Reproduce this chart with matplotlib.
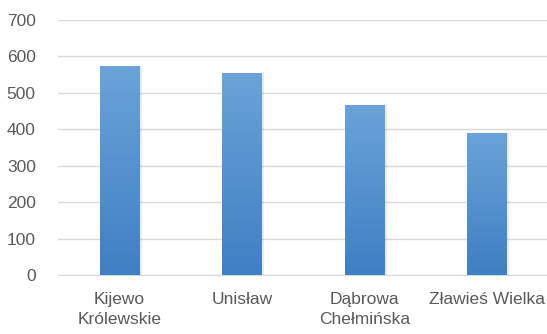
import numpy as np
import matplotlib
matplotlib.use('Agg')
import matplotlib.pyplot as plt
from matplotlib.colors import LinearSegmentedColormap

places = ['Kijewo\nKrólewskie', 'Unisław', 'Dąbrowa\nChełmińska', 'Zławieś Wielka']
values = [574, 555, 467, 390]
yticks = [0, 100, 200, 300, 400, 500, 600, 700]

plt.rcParams['font.family'] = ['Liberation Sans', 'DejaVu Sans']

fig = plt.figure(figsize=(5.47, 3.34), dpi=100)
ax = fig.add_axes([58/547, 1-275/334, 490/547, 255/334])

x = np.arange(len(places))
w = 0.32
bars = ax.bar(x, values, width=w, color='none', zorder=3)

# vertical gradient inside each bar
cmap = LinearSegmentedColormap.from_list('blu', ['#3f7fc3', '#6aa3d8'])
grad = np.linspace(0, 1, 256).reshape(-1, 1)
for b in bars:
    bx, by = b.get_x(), b.get_y()
    bw, bh = b.get_width(), b.get_height()
    # soft shadow
    ax.bar(bx + bw/2 + 0.012, bh, width=bw + 0.02, color='#000000', alpha=0.08, zorder=2)
    im = ax.imshow(grad, cmap=cmap, origin='lower', aspect='auto',
                   extent=[bx, bx + bw, 0, bh], zorder=3)
    im.set_clip_path(b)

ax.set_xlim(-0.5, len(places) - 0.5)
ax.set_ylim(0, 700)
ax.set_yticks(yticks)
ax.set_xticks(x)
ax.set_xticklabels(places)
ax.grid(axis='y', color='#d9d9d9', linewidth=1, zorder=0)
for s in ['top', 'right', 'left']:
    ax.spines[s].set_visible(False)
ax.spines['bottom'].set_color('#d9d9d9')
ax.tick_params(length=0, colors='#595959', labelsize=12.5)
ax.tick_params(axis='y', pad=16)
ax.tick_params(axis='x', pad=12)
for t in ax.get_xticklabels():
    t.set_linespacing(1.45)

fig.savefig('out.png', dpi=100)
